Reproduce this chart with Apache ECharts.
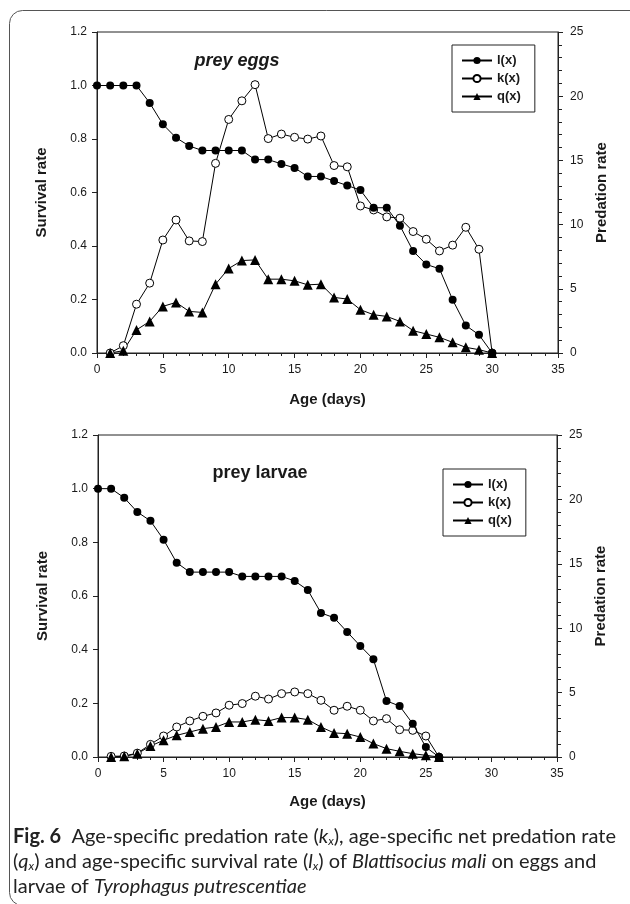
<!DOCTYPE html>
<html>
<head>
<meta charset="utf-8">
<script src="https://cdn.jsdelivr.net/npm/echarts@6/dist/echarts.min.js"></script>
<style>
  html, body { margin: 0; padding: 0; background: #fff; }
  #chart { width: 630px; height: 904px; }
</style>
</head>
<body>
<div id="chart"></div>
<script>
// prey eggs (days 0..30 for l(x); days 1..30 for k(x), q(x))
const daysEggs = [0, 1, 2, 3, 4, 5, 6, 7, 8, 9, 10, 11, 12, 13, 14, 15, 16, 17, 18, 19, 20, 21, 22, 23, 24, 25, 26, 27, 28, 29, 30]
const lxEggs = [1.0, 1.0, 1.0, 1.0, 0.935, 0.855, 0.805, 0.774, 0.757, 0.757, 0.757, 0.757, 0.723, 0.723, 0.707, 0.692, 0.66, 0.66, 0.643, 0.626, 0.609, 0.543, 0.543, 0.476, 0.381, 0.331, 0.315, 0.199, 0.103, 0.068, 0]
const kxEggs = [0, 0.57, 3.8, 5.44, 8.8, 10.36, 8.73, 8.68, 14.77, 18.19, 19.64, 20.9, 16.7, 17.05, 16.8, 16.66, 16.9, 14.6, 14.5, 11.45, 11.14, 10.6, 10.5, 9.46, 8.86, 7.95, 8.4, 9.79, 8.08, 0]
const qxEggs = [0, 0.18, 1.8, 2.46, 3.63, 3.94, 3.24, 3.16, 5.36, 6.58, 7.2, 7.25, 5.75, 5.75, 5.62, 5.31, 5.36, 4.33, 4.2, 3.37, 2.98, 2.85, 2.46, 1.74, 1.48, 1.22, 0.83, 0.44, 0.26, 0]

// prey larvae (days 0..26 for l(x); days 1..26 for k(x), q(x))
const daysLarvae = [0, 1, 2, 3, 4, 5, 6, 7, 8, 9, 10, 11, 12, 13, 14, 15, 16, 17, 18, 19, 20, 21, 22, 23, 24, 25, 26]
const lxLarvae = [1.0, 1.0, 0.966, 0.913, 0.88, 0.81, 0.724, 0.689, 0.689, 0.689, 0.689, 0.673, 0.673, 0.673, 0.673, 0.656, 0.622, 0.537, 0.519, 0.466, 0.414, 0.364, 0.209, 0.19, 0.124, 0.037, 0]
const kxLarvae = [0.05, 0.08, 0.3, 0.98, 1.63, 2.33, 2.8, 3.16, 3.42, 4.02, 4.15, 4.72, 4.5, 4.92, 5.05, 4.92, 4.4, 3.63, 3.94, 3.63, 2.8, 2.98, 2.12, 2.07, 1.63, 0]
const qxLarvae = [0, 0.05, 0.26, 0.85, 1.3, 1.68, 1.94, 2.2, 2.33, 2.72, 2.72, 2.9, 2.8, 3.06, 3.06, 2.9, 2.33, 1.87, 1.81, 1.55, 1.04, 0.65, 0.44, 0.26, 0.13, 0]

const seriesNames = ['l(x)', 'k(x)', 'q(x)']
const panelTitles = ['prey eggs', 'prey larvae']

const FONT = '"Liberation Sans", Arial, sans-serif'
const CAP_FONT = 'Lato, "Open Sans", sans-serif'
const INK = '#1a1a1a'
const lineCol = { color: '#222', width: 1 }

const chart = echarts.init(document.getElementById('chart'))

const pairs = (days, vals, offset) => vals.map((v, i) => [days[i + offset], v])

const xAxisFor = (gridIndex, nameGap) => ({
  gridIndex,
  type: 'value',
  min: 0,
  max: 35,
  interval: 5,
  name: 'Age (days)',
  nameLocation: 'middle',
  nameGap,
  nameTextStyle: { fontFamily: FONT, fontWeight: 'bold', fontSize: 15, color: INK },
  axisLine: { lineStyle: lineCol },
  axisTick: { length: 5, lineStyle: lineCol },
  minorTick: { show: true, splitNumber: 5, length: 3, lineStyle: lineCol },
  splitLine: { show: false },
  axisLabel: { fontFamily: FONT, fontSize: 12, color: INK, margin: 11 }
})

const leftAxisFor = (gridIndex) => ({
  gridIndex,
  type: 'value',
  min: 0,
  max: 1.2,
  interval: 0.2,
  name: 'Survival rate',
  nameLocation: 'middle',
  nameGap: 48,
  nameRotate: 90,
  nameTextStyle: { fontFamily: FONT, fontWeight: 'bold', fontSize: 15, color: INK },
  axisLine: { show: true, lineStyle: lineCol },
  axisTick: { show: true, length: 5, lineStyle: lineCol },
  splitLine: { show: false },
  axisLabel: { fontFamily: FONT, fontSize: 12, color: INK, margin: 10, formatter: (v) => v.toFixed(1) }
})

const rightAxisFor = (gridIndex) => ({
  gridIndex,
  type: 'value',
  position: 'right',
  min: 0,
  max: 25,
  interval: 5,
  name: 'Predation rate',
  nameLocation: 'middle',
  nameGap: 30,
  nameRotate: 90,
  nameTextStyle: { fontFamily: FONT, fontWeight: 'bold', fontSize: 15, color: INK },
  axisLine: { show: true, lineStyle: lineCol },
  axisTick: { show: true, length: 5, lineStyle: lineCol },
  minorTick: { show: true, splitNumber: 5, length: 4, lineStyle: lineCol },
  splitLine: { show: false },
  axisLabel: { fontFamily: FONT, fontSize: 12, color: INK, margin: 12 }
})

const makeSeries = (axisBase, days, lx, kx, qx) => [
  {
    name: seriesNames[0],
    type: 'line',
    xAxisIndex: axisBase / 2,
    yAxisIndex: axisBase,
    data: pairs(days, lx, 0),
    symbol: 'circle',
    symbolSize: 8,
    lineStyle: { color: '#000', width: 1 },
    itemStyle: { color: '#000' },
    z: 4
  },
  {
    name: seriesNames[1],
    type: 'line',
    xAxisIndex: axisBase / 2,
    yAxisIndex: axisBase + 1,
    data: pairs(days, kx, 1),
    symbol: 'circle',
    symbolSize: 8,
    showAllSymbol: true,
    lineStyle: { color: '#000', width: 1 },
    itemStyle: { color: '#fff', borderColor: '#000', borderWidth: 1 },
    z: 3
  },
  {
    name: seriesNames[2],
    type: 'line',
    xAxisIndex: axisBase / 2,
    yAxisIndex: axisBase + 1,
    data: pairs(days, qx, 1),
    symbol: 'triangle',
    symbolSize: 10,
    lineStyle: { color: '#000', width: 1 },
    itemStyle: { color: '#000' },
    z: 3
  }
]

const legendFor = (left, top) => ({
  orient: 'vertical',
  left,
  top,
  data: seriesNames,
  backgroundColor: '#fff',
  borderColor: '#222',
  borderWidth: 1,
  borderRadius: 0,
  padding: [9, 14, 9, 9],
  itemGap: 5,
  itemWidth: 30,
  itemHeight: 9,
  selectedMode: false,
  textStyle: { fontFamily: FONT, fontWeight: 'bold', fontSize: 13, color: INK }
})

const captionStyle = {
  fontFamily: CAP_FONT,
  fontSize: 20,
  fill: '#222',
  rich: {
    b: { fontFamily: CAP_FONT, fontSize: 20, fontWeight: 'bold', fill: '#222' },
    i: { fontFamily: CAP_FONT, fontSize: 20, fontStyle: 'italic', fill: '#222' },
    s: { fontFamily: CAP_FONT, fontSize: 12, fontStyle: 'italic', fill: '#222', verticalAlign: 'bottom', padding: [7, 0, 0, 0] }
  }
}

const captionLines = [
  '{b|Fig. 6}  Age-specific predation rate ({i|k}{s|x}), age-specific net predation rate',
  '({i|q}{s|x}) and age-specific survival rate ({i|l}{s|x}) of {i|Blattisocius mali} on eggs and',
  'larvae of {i|Tyrophagus putrescentiae}'
]

chart.setOption({
  backgroundColor: '#fff',
  animation: false,
  grid: [
    { left: 97, top: 32, right: 72, height: 321, show: true, borderColor: '#222', borderWidth: 1, backgroundColor: 'transparent' },
    { left: 98, top: 435, right: 73, height: 322, show: true, borderColor: '#222', borderWidth: 1, backgroundColor: 'transparent' }
  ],
  xAxis: [xAxisFor(0, 39), xAxisFor(1, 37)],
  yAxis: [leftAxisFor(0), rightAxisFor(0), leftAxisFor(1), rightAxisFor(1)],
  legend: [legendFor(452, 45), legendFor(443, 469)],
  series: [
    ...makeSeries(0, daysEggs, lxEggs, kxEggs, qxEggs),
    ...makeSeries(2, daysLarvae, lxLarvae, kxLarvae, qxLarvae)
  ],
  graphic: [
    {
      type: 'rect',
      shape: { x: 9.5, y: 10.5, width: 640, height: 895, r: 13 },
      style: { fill: 'none', stroke: '#555', lineWidth: 1 },
      silent: true
    },
    {
      type: 'text',
      x: 237,
      y: 61,
      style: { text: panelTitles[0], fontFamily: FONT, fontSize: 18, fontWeight: 'bold', fontStyle: 'italic', fill: INK, align: 'center', verticalAlign: 'middle' }
    },
    {
      type: 'text',
      x: 260,
      y: 473,
      style: { text: panelTitles[1], fontFamily: FONT, fontSize: 18, fontWeight: 'bold', fill: INK, align: 'center', verticalAlign: 'middle' }
    },
    ...captionLines.map((t, i) => ({
      type: 'text',
      x: 13,
      y: 837 + i * 25,
      style: Object.assign({ text: t, align: 'left', verticalAlign: 'middle' }, captionStyle)
    }))
  ]
})
</script>
</body>
</html>
